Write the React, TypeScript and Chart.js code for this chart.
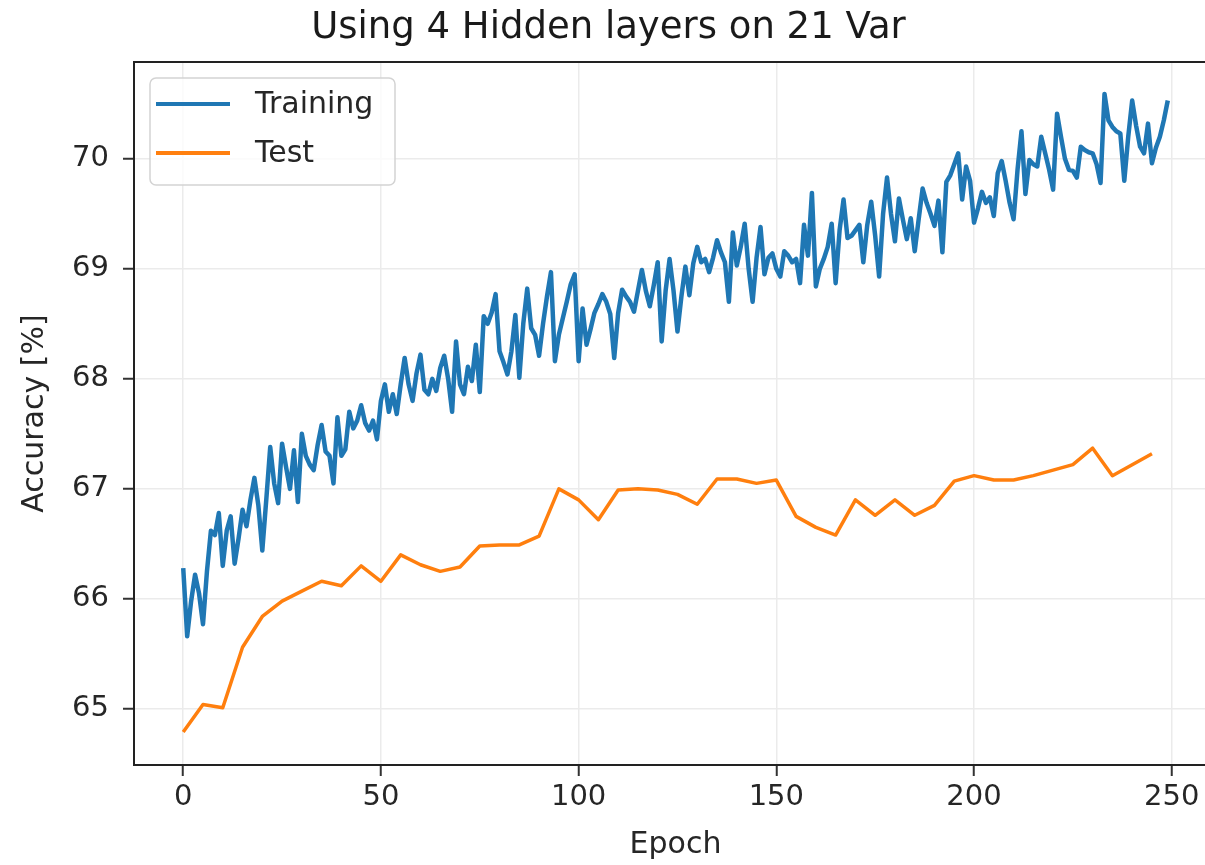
import React, { useEffect, useRef } from "react";
import { Chart, registerables } from "chart.js";

Chart.register(...registerables);

const chartTitle = "Using 4 Hidden layers on 21 Var";
const xAxisLabel = "Epoch";
const yAxisLabel = "Accuracy [%]";
const seriesNames = ["Training", "Test"];

// Training accuracy, one value per epoch (0..249)
const trainAcc: number[] = [
  66.28, 65.66, 65.98, 66.22, 66.05, 65.77, 66.25, 66.62, 66.58, 66.78,
  66.30, 66.62, 66.75, 66.32, 66.55, 66.81, 66.66, 66.90, 67.10, 66.85,
  66.44, 66.90, 67.38, 67.05, 66.87, 67.41, 67.20, 67.00, 67.35, 66.88,
  67.50, 67.30, 67.22, 67.17, 67.40, 67.58, 67.34, 67.30, 67.05, 67.65,
  67.30, 67.36, 67.70, 67.55, 67.62, 67.76, 67.60, 67.53, 67.62, 67.45,
  67.80, 67.95, 67.70, 67.86, 67.68, 67.95, 68.19, 67.95, 67.80, 68.05,
  68.22, 67.90, 67.86, 68.00, 67.89, 68.10, 68.21, 68.00, 67.70, 68.34,
  67.95, 67.86, 68.11, 67.98, 68.31, 67.88, 68.57, 68.50, 68.60, 68.77,
  68.25, 68.15, 68.04, 68.25, 68.58, 68.01, 68.50, 68.82, 68.46, 68.40,
  68.21, 68.50, 68.75, 68.97, 68.16, 68.40, 68.55, 68.70, 68.86, 68.95,
  68.16, 68.64, 68.31, 68.45, 68.60, 68.68, 68.77, 68.70, 68.59, 68.19,
  68.60, 68.81, 68.75, 68.70, 68.61, 68.80, 68.99, 68.80, 68.66, 68.85,
  69.06, 68.34, 68.80, 69.09, 68.80, 68.43, 68.75, 69.02, 68.76, 69.05,
  69.20, 69.06, 69.09, 68.97, 69.10, 69.26, 69.15, 69.06, 68.70, 69.33,
  69.03, 69.20, 69.41, 69.00, 68.70, 69.10, 69.38, 68.95, 69.10, 69.14,
  69.00, 68.93, 69.16, 69.12, 69.06, 69.09, 68.87, 69.40, 69.12, 69.69,
  68.84, 69.00, 69.09, 69.20, 69.41, 68.87, 69.35, 69.63, 69.28, 69.30,
  69.35, 69.40, 69.06, 69.40, 69.61, 69.30, 68.93, 69.50, 69.83, 69.50,
  69.25, 69.64, 69.45, 69.27, 69.46, 69.16, 69.45, 69.73, 69.60, 69.50,
  69.39, 69.62, 69.15, 69.79, 69.85, 69.95, 70.05, 69.63, 69.93, 69.80,
  69.42, 69.55, 69.70, 69.60, 69.65, 69.48, 69.87, 69.98, 69.80, 69.60,
  69.45, 69.90, 70.25, 69.68, 69.99, 69.95, 69.93, 70.20, 70.05, 69.90,
  69.72, 70.41, 70.20, 70.00, 69.90, 69.89, 69.83, 70.11, 70.08, 70.06,
  70.05, 69.95, 69.78, 70.59, 70.35, 70.29, 70.25, 70.23, 69.80, 70.20,
  70.53, 70.30, 70.11, 70.05, 70.32, 69.96, 70.10, 70.20, 70.35, 70.53,
];

// Test accuracy, evaluated every 5 epochs
const testEpochs: number[] = [
  0, 5, 10, 15, 20, 25, 30, 35, 40, 45,
  50, 55, 60, 65, 70, 75, 80, 85, 90, 95,
  100, 105, 110, 115, 120, 125, 130, 135, 140, 145,
  150, 155, 160, 165, 170, 175, 180, 185, 190, 195,
  200, 205, 210, 215, 220, 225, 230, 235, 240, 245,
];
const testAcc: number[] = [
  64.79, 65.04, 65.01, 65.56, 65.84, 65.98, 66.07, 66.16, 66.12, 66.30,
  66.16, 66.40, 66.31, 66.25, 66.29, 66.48, 66.49, 66.49, 66.57, 67.00,
  66.90, 66.72, 66.99, 67.00, 66.99, 66.95, 66.86, 67.09, 67.09, 67.05,
  67.08, 66.75, 66.65, 66.58, 66.90, 66.76, 66.90, 66.76, 66.85, 67.07,
  67.12, 67.08, 67.08, 67.12, 67.17, 67.22, 67.37, 67.12, 67.22, 67.32,
];

const xTickValues = [0, 50, 100, 150, 200, 250];
const yTickValues = [65, 66, 67, 68, 69, 70];
const xRange = [-12.45, 261.45];
const yRange = [64.49, 70.88];

const colors = ["#1f77b4", "#ff7f0e"];
const FONT = "'DejaVu Sans', sans-serif";

// top edge of the plot frame (left and bottom come from the axis borders;
// the right edge lies outside the cropped picture)
const framePlugin = {
  id: "frame",
  afterDraw(chart: any) {
    const { ctx, chartArea } = chart;
    ctx.save();
    ctx.strokeStyle = "#222";
    ctx.lineWidth = 2;
    ctx.beginPath();
    ctx.moveTo(chartArea.left - 1, chartArea.top);
    ctx.lineTo(chart.width, chartArea.top);
    ctx.stroke();
    ctx.restore();
  },
};

const legendPlugin = {
  id: "boxLegend",
  afterDraw(chart: any) {
    const { ctx, chartArea } = chart;
    const x = chartArea.left + 16;
    const y = chartArea.top + 16;
    const w = 245;
    const h = 107;
    ctx.save();
    ctx.fillStyle = "rgba(255,255,255,0.8)";
    ctx.strokeStyle = "#d3d3d3";
    ctx.lineWidth = 1.5;
    ctx.beginPath();
    if (ctx.roundRect) ctx.roundRect(x, y, w, h, 6);
    else ctx.rect(x, y, w, h);
    ctx.fill();
    ctx.stroke();
    chart.data.datasets.forEach((ds: any, i: number) => {
      const cy = y + 26 + i * 49;
      ctx.strokeStyle = ds.borderColor;
      ctx.lineWidth = 4;
      ctx.beginPath();
      ctx.moveTo(x + 6, cy);
      ctx.lineTo(x + 80, cy);
      ctx.stroke();
      ctx.fillStyle = "#262626";
      ctx.font = `30px ${FONT}`;
      ctx.textBaseline = "middle";
      ctx.textAlign = "left";
      ctx.fillText(ds.label, x + 105, cy + 1);
    });
    ctx.restore();
  },
};

export default function App() {
  const canvasRef = useRef<HTMLCanvasElement | null>(null);

  useEffect(() => {
    const canvas = canvasRef.current;
    if (!canvas) return;
    const trainData = trainAcc.map((v, i) => ({ x: i, y: v }));
    const testData = testEpochs.map((e, i) => ({ x: e, y: testAcc[i] }));

    const chart = new Chart(canvas, {
      type: "line",
      data: {
        datasets: [
          {
            label: seriesNames[0],
            data: trainData,
            borderColor: colors[0],
            backgroundColor: colors[0],
            borderWidth: 4.5,
            pointRadius: 0,
            tension: 0,
            borderJoinStyle: "round",
          },
          {
            label: seriesNames[1],
            data: testData,
            borderColor: colors[1],
            backgroundColor: colors[1],
            borderWidth: 3.5,
            pointRadius: 0,
            tension: 0,
            borderJoinStyle: "round",
          },
        ],
      },
      options: {
        responsive: false,
        animation: false,
        devicePixelRatio: 1,
        layout: { padding: { left: 0, right: 8, top: 0, bottom: 0 } },
        plugins: {
          legend: { display: false },
          tooltip: { enabled: false },
          title: {
            display: true,
            text: chartTitle,
            color: "#1a1a1a",
            font: { family: FONT, size: 37, weight: "normal" },
            padding: { top: 6, bottom: 11.6 },
          },
        },
        scales: {
          x: {
            type: "linear",
            min: xRange[0],
            max: xRange[1],
            afterBuildTicks: (scale: any) => {
              scale.ticks = xTickValues.map((v) => ({ value: v }));
            },
            afterFit: (scale: any) => {
              scale.height = 100;
            },
            ticks: {
              color: "#262626",
              font: { family: FONT, size: 29 },
              padding: 4,
              maxRotation: 0,
              autoSkip: false,
            },
            grid: {
              color: "#ebebeb",
              lineWidth: 1.5,
              tickLength: 11,
              tickColor: "#333",
              tickWidth: 2,
            },
            border: { display: true, color: "#222", width: 2 },
            title: {
              display: true,
              text: xAxisLabel,
              color: "#262626",
              font: { family: FONT, size: 30 },
              padding: { top: 0, bottom: 2 },
            },
          },
          y: {
            type: "linear",
            min: yRange[0],
            max: yRange[1],
            afterBuildTicks: (scale: any) => {
              scale.ticks = yTickValues.map((v) => ({ value: v }));
            },
            afterFit: (scale: any) => {
              scale.width = 134;
            },
            ticks: {
              color: "#262626",
              font: { family: FONT, size: 29 },
              padding: 14,
              autoSkip: false,
            },
            grid: {
              color: "#ebebeb",
              lineWidth: 1.5,
              tickLength: 11,
              tickColor: "#333",
              tickWidth: 2,
            },
            border: { display: true, color: "#222", width: 2 },
            title: {
              display: true,
              text: yAxisLabel,
              color: "#262626",
              font: { family: FONT, size: 30 },
              padding: { top: 17, bottom: 0 },
            },
          },
        },
      },
      plugins: [framePlugin, legendPlugin],
    } as any);

    return () => chart.destroy();
  }, []);

  return (
    <div
      style={{
        position: "fixed",
        left: 0,
        top: 0,
        width: 1205,
        height: 865,
        overflow: "hidden",
        background: "#fff",
      }}
    >
      <canvas ref={canvasRef} width={1225} height={865} style={{ display: "block" }} />
    </div>
  );
}
